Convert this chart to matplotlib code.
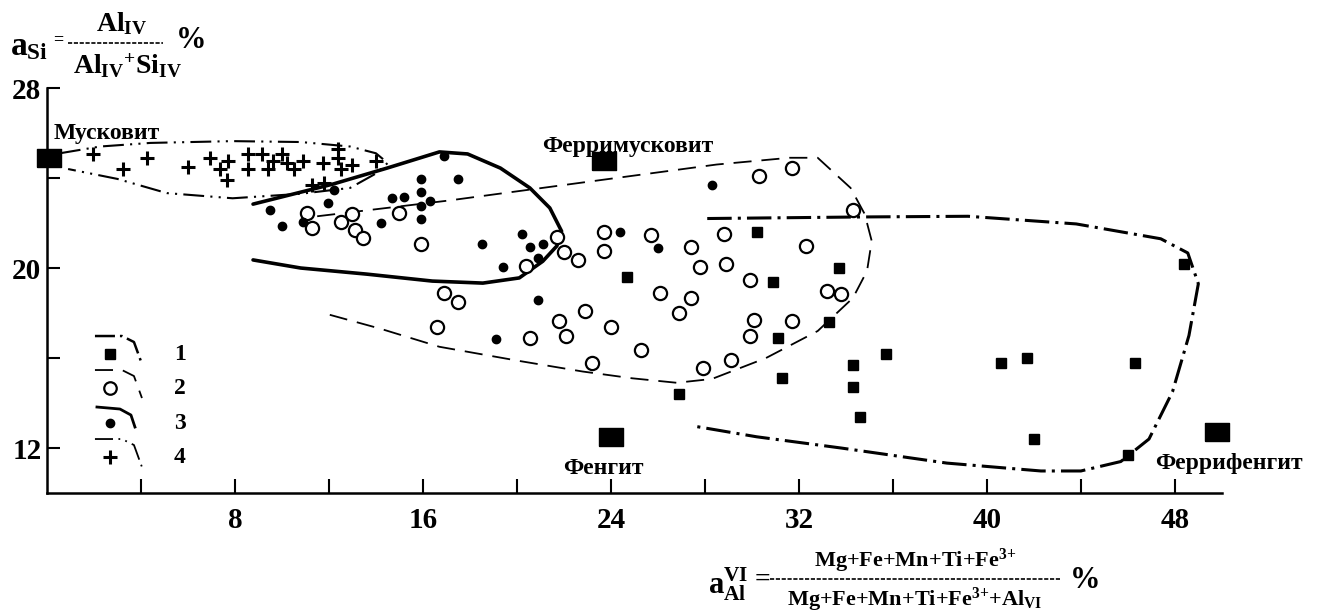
import numpy as np
import matplotlib
matplotlib.use("Agg")
import matplotlib.pyplot as plt
from matplotlib.lines import Line2D

plt.rcParams['font.family'] = ['Liberation Serif', 'DejaVu Serif']
plt.rcParams['font.weight'] = 'bold'
plt.rcParams['mathtext.fontset'] = 'custom'
plt.rcParams['mathtext.rm'] = 'Liberation Serif:bold'
plt.rcParams['mathtext.it'] = 'Liberation Serif:bold'
plt.rcParams['mathtext.bf'] = 'Liberation Serif:bold'

# --- data (a_Al^VI, a_Si) ---
# 1: squares
sq_x = [30.2, 24.7, 30.9, 33.7, 33.3, 31.1, 35.7, 34.3, 31.3, 34.3, 26.9, 34.6,
        40.6, 41.7, 46.3, 42.0, 46.0, 48.4]
sq_y = [21.6, 19.6, 19.4, 20.0, 17.6, 16.9, 16.2, 15.7, 15.1, 14.7, 14.4, 13.4,
        15.8, 16.0, 15.8, 12.4, 11.7, 20.2]
# 2: open circles
oc_x = [11.06, 11.3, 13.0, 12.5, 13.1, 13.45, 15.0, 15.9, 21.7, 22.0, 22.6, 20.4,
        16.9, 17.5, 22.9, 21.8, 16.6, 20.55, 30.3, 31.7, 34.3, 23.7, 23.7, 25.7,
        27.4, 28.8, 32.3, 27.8, 28.9, 29.9, 26.1, 27.4, 26.9, 33.2, 33.8, 22.1,
        24.0, 25.3, 23.2, 30.1, 29.9, 31.7, 27.9, 29.1]
oc_y = [22.44, 21.8, 22.4, 22.04, 21.7, 21.33, 22.44, 21.07, 21.4, 20.7, 20.35, 20.09,
        18.9, 18.5, 18.1, 17.64, 17.4, 16.9, 24.1, 24.44, 22.6, 21.6, 20.76, 21.47,
        20.93, 21.5, 21.0, 20.04, 20.2, 19.47, 18.9, 18.67, 18.0, 18.98, 18.84, 17.0,
        17.4, 16.36, 15.8, 17.7, 17.0, 17.64, 15.56, 15.9]
# 3: filled circles
fc_x = [12.2, 16.9, 9.5, 11.96, 10.9, 10.0, 14.2, 14.7, 15.2, 15.9, 15.9, 15.9,
        15.9, 16.3, 17.5, 18.5, 20.2, 20.55, 21.1, 20.9, 19.4, 20.9, 19.1, 24.4,
        26.0, 28.3]
fc_y = [23.47, 24.98, 22.6, 22.9, 22.04, 21.87, 22.0, 23.1, 23.15, 23.95, 23.4, 22.75,
        22.2, 22.98, 23.95, 21.07, 21.5, 20.93, 21.07, 20.44, 20.04, 18.6, 16.84, 21.6,
        20.9, 23.7]
# 4: crosses
cr_x = [1.96, 3.23, 4.26, 6.0, 6.94, 7.36, 7.7, 7.66, 8.55, 8.55, 9.15, 9.4, 9.6,
        10.0, 10.2, 10.5, 10.9, 11.75, 12.4, 12.4, 12.5, 13.0, 14.0, 11.3, 11.8]
cr_y = [25.07, 24.4, 24.9, 24.5, 24.9, 24.4, 24.75, 23.9, 25.07, 24.4, 25.07, 24.4,
        24.75, 25.07, 24.67, 24.4, 24.75, 24.67, 25.3, 24.9, 24.4, 24.6, 24.75, 23.7, 23.8]

# end members
em_names = ['Мусковит', 'Ферримусковит', 'Фенгит', 'Феррифенгит']
em_x = [0.1, 23.7, 24.0, 49.8]
em_y = [24.9, 24.75, 12.5, 12.7]
em_lab_x = [0.3, 24.7, 23.7, 50.3]
em_lab_y = [26.0, 25.4, 11.1, 11.33]

# field outlines
f1_x = [28.1, 34.7, 39.2, 43.8, 47.4, 48.55, 49.0, 48.6, 47.9, 46.9, 45.7, 44.0,
        42.3, 38.3, 33.8, 30.2, 27.5]
f1_y = [22.2, 22.27, 22.3, 21.96, 21.3, 20.67, 19.3, 17.0, 14.5, 12.4, 11.4, 10.98,
        10.98, 11.33, 12.0, 12.5, 12.98]
f2_x = [11.5, 17.1, 23.5, 28.5, 31.6, 32.8, 34.2, 34.8, 35.1, 34.9, 34.3, 32.8,
        30.6, 28.3, 26.8, 24.9, 22.8, 20.1, 16.7, 14.2, 11.9]
f2_y = [22.3, 23.0, 23.9, 24.6, 24.9, 24.9, 23.56, 22.4, 21.2, 19.87, 18.67, 17.2,
        16.0, 15.07, 14.9, 15.1, 15.4, 15.87, 16.5, 17.3, 17.96]
f3_x = [8.77, 12.17, 14.47, 16.7, 17.9, 19.3, 20.55, 21.4, 21.9, 21.7, 21.1, 20.1,
        18.55, 16.4, 13.6, 10.8, 8.77]
f3_y = [22.84, 23.73, 24.44, 25.16, 25.07, 24.44, 23.56, 22.67, 21.64, 20.98, 20.3, 19.56,
        19.33, 19.42, 19.73, 20.0, 20.36]
f4_x = [0.55, 2.26, 4.4, 7.9, 10.8, 12.9, 14.0, 14.5, 14.0, 12.9, 10.8, 7.9, 5.1, 3.0, 0.9]
f4_y = [25.1, 25.4, 25.56, 25.64, 25.6, 25.4, 25.1, 24.67, 24.2, 23.56, 23.3, 23.1, 23.33, 23.96, 24.4]

x_ticks = [4, 8, 12, 16, 20, 24, 28, 32, 36, 40, 44, 48]
x_labels = ['', '8', '', '16', '', '24', '', '32', '', '40', '', '48']
y_ticks = [12, 16, 20, 24, 28]
y_labels = ['12', '', '20', '', '28']

fig = plt.figure(figsize=(13.19, 6.12), dpi=100)
ax = fig.add_axes([0.0356, 0.1944, 0.962, 0.6728])

# outlines
ls1 = (0, (8, 2, 1, 2))
ls2 = (0, (10, 5.5))
ls4 = (0, (10, 3, 1, 3, 1, 3))
ax.plot(f1_x, f1_y, color='k', lw=2.2, linestyle=ls1, solid_joinstyle='round')
ax.plot(f2_x, f2_y, color='k', lw=1.3, linestyle=ls2)
ax.plot(f3_x, f3_y, color='k', lw=2.6, solid_joinstyle='round', solid_capstyle='round')
ax.plot(f4_x, f4_y, color='k', lw=1.5, linestyle=ls4)

# points
ax.plot(sq_x, sq_y, 's', color='k', ms=7, linestyle='none')
ax.plot(oc_x, oc_y, 'o', mfc='white', mec='k', mew=1.6, ms=9.5, linestyle='none')
ax.plot(fc_x, fc_y, 'o', color='k', ms=6, linestyle='none')
ax.plot(cr_x, cr_y, '+', color='k', ms=10, mew=2.2, linestyle='none')

rect = [(-1.3, -1), (1.3, -1), (1.3, 1), (-1.3, 1), (-1.3, -1)]
ax.plot(em_x, em_y, marker=rect, color='k', ms=17, linestyle='none', clip_on=False)
for name, lx, ly in zip(em_names, em_lab_x, em_lab_y):
    ha = 'left' if name == 'Мусковит' else 'center'
    ax.text(lx, ly, name, ha=ha, va='center', fontsize=17, fontweight='bold')

# legend drawn by hand, in axes fractions
def px(xp, yp):
    return (xp - 47) / 1269, (493 - yp) / 411.75

rows = [354, 388, 423, 457]
styles = [dict(lw=1.8, linestyle=ls1), dict(lw=1.3, linestyle=ls2),
          dict(lw=2.0), dict(lw=1.3, linestyle=ls4)]
marks = [dict(marker='s', color='k', ms=7),
         dict(marker='o', mfc='white', mec='k', mew=1.6, ms=9),
         dict(marker='o', color='k', ms=6),
         dict(marker='+', color='k', ms=10, mew=2.2)]
for i, m in enumerate(rows):
    pts = [px(95, m - 18), px(122, m - 18), px(134, m - 12), px(142, m + 10)]
    if i == 2:
        pts = [px(97, m - 16), px(120, m - 14), px(131, m - 8), px(135, m + 4)]
    ax.plot([p[0] for p in pts], [p[1] for p in pts], color='k',
            transform=ax.transAxes, clip_on=False, **styles[i])
    mx, my = px(110, m)
    ax.plot([mx], [my], transform=ax.transAxes, linestyle='none', **marks[i])
    tx, ty = px(180, m)
    ax.text(tx, ty, str(i + 1), transform=ax.transAxes, ha='center', va='center',
            fontsize=17, fontweight='bold')

ax.set_xlim(0, 54)
ax.set_ylim(10, 28.3)
ax.set_xticks(x_ticks)
ax.set_xticklabels(x_labels)
ax.set_yticks(y_ticks)
ax.set_yticklabels(y_labels)
ax.tick_params(axis='x', direction='in', length=10, width=1.5, pad=10, labelsize=21)
ax.tick_params(axis='y', direction='in', length=9, width=1.5, pad=4, labelsize=21)
for lab in ax.get_xticklabels() + ax.get_yticklabels():
    lab.set_fontweight('bold')
ax.spines['top'].set_visible(False)
ax.spines['right'].set_visible(False)
ax.spines['left'].set_linewidth(1.8)
ax.spines['bottom'].set_linewidth(1.8)
ax.spines['left'].set_bounds(10, 28)
ax.spines['bottom'].set_bounds(0, 50)

# y axis label (top left)
W, H = 1319, 612
def ft(xp, yp, s, **kw):
    fig.text(xp / W, 1 - yp / H, s, **kw)

ft(10, 47, r'$\mathrm{a}_{\mathrm{Si}}$', fontsize=24, ha='left', va='center')
ft(58, 40, '=', fontsize=13, ha='center', va='center')
ft(122, 24, r'$\mathrm{Al}_{\mathrm{IV}}$', fontsize=20, ha='center', va='center')
fig.add_artist(Line2D([68 / W, 163 / W], [1 - 43 / H, 1 - 43 / H], color='k', lw=1.2,
                      linestyle=(0, (2.5, 1.0))))
ft(127, 66, r'$\mathrm{Al}_{\mathrm{IV}}{}^{+}\mathrm{Si}_{\mathrm{IV}}$', fontsize=20,
   ha='center', va='center')
ft(191, 40, '%', fontsize=22, ha='center', va='center', fontweight='bold')

# x axis label (bottom)
ft(728, 584, r'$\mathrm{a}_{\mathrm{Al}}^{\mathrm{VI}}$', fontsize=22, ha='center', va='center')
ft(762, 580, '=', fontsize=20, ha='center', va='center')
ft(915, 561, r'$\mathrm{Mg{+}Fe{+}Mn{+}Ti{+}Fe}^{\mathrm{3{+}}}$', fontsize=16,
   ha='center', va='center')
fig.add_artist(Line2D([770 / W, 1060 / W], [1 - 579 / H, 1 - 579 / H], color='k', lw=1.2,
                      linestyle=(0, (2.5, 1.0))))
ft(915, 600, r'$\mathrm{Mg{+}Fe{+}Mn{+}Ti{+}Fe}^{\mathrm{3{+}}}{+}\mathrm{Al}_{\mathrm{VI}}$',
   fontsize=16, ha='center', va='center')
ft(1085, 580, '%', fontsize=22, ha='center', va='center', fontweight='bold')

fig.savefig('out.png', dpi=100, facecolor='white')
